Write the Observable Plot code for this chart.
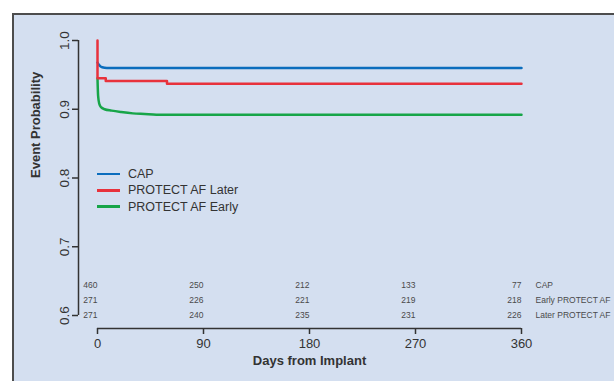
<!DOCTYPE html>
<html>
<head>
<meta charset="utf-8">
<script src="https://cdn.jsdelivr.net/npm/d3@7"></script>
<script src="https://cdn.jsdelivr.net/npm/@observablehq/plot@0.6"></script>
<style>
  html, body { margin: 0; padding: 0; background: #ffffff; }
  #wrap { position: relative; width: 614px; height: 381px; overflow: hidden; }
  #panel { position: absolute; left: 12px; top: 13px; width: 640px; height: 400px;
           background: #d4dff0; border-top: 2px solid #4d4d4d; border-left: 2px solid #4d4d4d; }
  #chart { position: absolute; left: 0; top: 0; }
  #legend { position: absolute; left: 97px; top: 166px; font-family: "Liberation Sans", Arial, sans-serif;
            font-size: 12.5px; color: #333; }
  .item { display: flex; align-items: center; height: 16.3px; }
  .swatch { width: 23px; height: 2.6px; margin-right: 8px; }
</style>
</head>
<body>
<div id="wrap">
  <div id="panel"></div>
  <div id="chart"></div>
  <div id="legend"></div>
</div>
<script>
// Series
const capDays   = [0, 1, 2, 4, 8, 360];
const capProb   = [0.968, 0.965, 0.963, 0.961, 0.960, 0.960];

const laterDays = [0, 0, 7, 59, 360];
const laterProb = [1.000, 0.945, 0.941, 0.937, 0.937];

const earlyDays = [0, 0.5, 1.5, 3, 6, 12, 20, 30, 40, 50, 360];
const earlyProb = [0.945, 0.920, 0.908, 0.903, 0.900, 0.898, 0.896, 0.894, 0.893, 0.892, 0.892];

const seriesNames  = ["CAP", "PROTECT AF Later", "PROTECT AF Early"];
const seriesColors = ["#0b6dbd", "#e8323c", "#17a548"];

// Numbers at risk
const riskDays   = [0, 90, 180, 270, 360];
const riskLabels = ["CAP", "Early PROTECT AF", "Later PROTECT AF"];
const riskCAP    = [460, 250, 212, 133, 77];
const riskEarly  = [271, 226, 221, 219, 218];
const riskLater  = [271, 240, 235, 231, 226];

const xTicks = [0, 90, 180, 270, 360];
const yTicks = [0.6, 0.7, 0.8, 0.9, 1.0];

const toRows = (days, vals) => days.map((d, i) => ({day: d, p: vals[i]}));
const cap = toRows(capDays, capProb);
const later = toRows(laterDays, laterProb);
const early = toRows(earlyDays, earlyProb);

const riskSets = [riskCAP, riskEarly, riskLater];
const riskOffsets = [-28, -13, 2];
const riskMarks = [];
riskSets.forEach((vals, r) => {
  riskMarks.push(Plot.text(riskDays.map((d, i) => ({day: d, n: vals[i]})), {
    x: "day", text: d => String(d.n), frameAnchor: "bottom", dy: riskOffsets[r],
    textAnchor: "end", fontSize: 8.5, fill: "#4a4a4a"
  }));
  riskMarks.push(Plot.text([riskLabels[r]], {
    x: () => riskDays[riskDays.length - 1], text: d => d, frameAnchor: "bottom",
    dy: riskOffsets[r], dx: 14, textAnchor: "start", fontSize: 8.5, fill: "#4a4a4a"
  }));
});

const plot = Plot.plot({
  width: 614,
  height: 381,
  marginTop: 40,
  marginBottom: 66,
  marginLeft: 97,
  marginRight: 93,
  style: { background: "transparent", fontFamily: "Liberation Sans, Arial, sans-serif", color: "#333", overflow: "visible" },
  x: { domain: [0, 360] },
  y: { domain: [0.6, 1.0] },
  marks: [
    // axes lines
    Plot.ruleX([0], { y1: yTicks[0], y2: yTicks[yTicks.length - 1], dx: -19, stroke: "#333", strokeWidth: 1.5 }),
    Plot.ruleY([yTicks[0]], { x1: xTicks[0], x2: xTicks[xTicks.length - 1], dy: 13, stroke: "#333", strokeWidth: 1.5 }),
    Plot.axisY({ ticks: yTicks, tickFormat: d3.format(".1f"), dx: -19, tickSize: 6, tickPadding: 4,
                 tickRotate: -90, fontSize: 13.5, label: null, fontFamily: "Liberation Sans Narrow, Liberation Sans, sans-serif", strokeWidth: 1.5 }),
    Plot.axisX({ ticks: xTicks, dy: 13, tickSize: 6, tickPadding: 4, fontSize: 13, label: null, strokeWidth: 1.5 }),
    Plot.text(["Days from Implant"], { frameAnchor: "bottom", dy: 49, fontSize: 13, fontWeight: "bold", fill: "#333" }),
    Plot.text(["Event Probability"], { frameAnchor: "left", dx: -62, rotate: -90, fontSize: 13, fontWeight: "bold", fill: "#333" }),
    // curves
    Plot.line(early, { x: "day", y: "p", stroke: seriesColors[2], strokeWidth: 2.5, curve: "monotone-x" }),
    Plot.line(cap, { x: "day", y: "p", stroke: seriesColors[0], strokeWidth: 2.5, curve: "monotone-x" }),
    Plot.line(later, { x: "day", y: "p", stroke: seriesColors[1], strokeWidth: 2.5, curve: "step-after" }),
    ...riskMarks
  ]
});
document.getElementById("chart").appendChild(plot);

const legend = document.getElementById("legend");
seriesNames.forEach((name, i) => {
  const row = document.createElement("div");
  row.className = "item";
  const sw = document.createElement("div");
  sw.className = "swatch";
  sw.style.background = seriesColors[i];
  const t = document.createElement("span");
  t.textContent = name;
  row.appendChild(sw);
  row.appendChild(t);
  legend.appendChild(row);
});
</script>
</body>
</html>
